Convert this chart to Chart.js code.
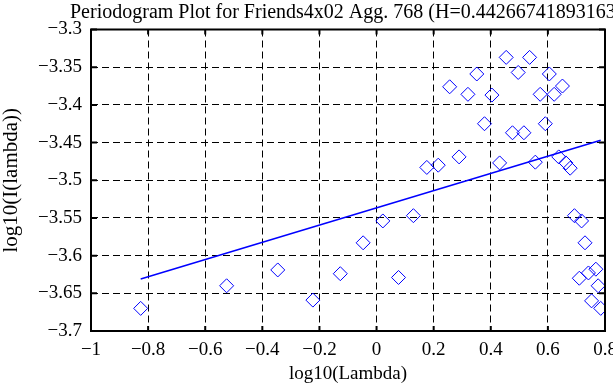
<!DOCTYPE html>
<html lang="en">
<head>
  <meta charset="UTF-8" />
  <title>Periodogram Plot</title>
  <script src="https://cdn.jsdelivr.net/npm/chart.js"></script>
  <style>
    html, body { margin: 0; padding: 0; background: #fff; }
    #chart { display: block; }
  </style>
</head>
<body>
  <canvas id="chart" width="613" height="385"></canvas>

  <script>
    // periodogram points, log10(Lambda) vs log10(I(lambda))
    const logLambda = [
      -0.826, -0.525, -0.346, -0.223, -0.127, -0.047, 0.077, 0.022, 0.129,
      0.176, 0.216, 0.289, 0.431, 0.556, 0.638, 0.663, 0.678,
      0.256, 0.351, 0.320, 0.454, 0.496, 0.404, 0.378, 0.476, 0.516,
      0.536, 0.605, 0.651, 0.573, 0.622, 0.591,
      0.693, 0.718, 0.730, 0.710, 0.742, 0.768, 0.776, 0.753, 0.785
    ];
    const logPower = [
      -3.670, -3.640, -3.619, -3.659, -3.624, -3.583, -3.629, -3.554, -3.547,
      -3.483, -3.480, -3.469, -3.477, -3.476, -3.469, -3.477, -3.484,
      -3.376, -3.359, -3.386, -3.337, -3.357, -3.387, -3.425, -3.437, -3.437,
      -3.337, -3.359, -3.375, -3.386, -3.386, -3.425,
      -3.547, -3.554, -3.583, -3.630, -3.623, -3.618, -3.640, -3.660, -3.670
    ];

    // least squares fit line ends
    const fitX = [-0.826, 0.785];
    const fitY = [-3.631, -3.447];

    const xTicks = [-1, -0.8, -0.6, -0.4, -0.2, 0, 0.2, 0.4, 0.6, 0.8];
    const xTickLabels = ['\u22121', '\u22120.8', '\u22120.6', '\u22120.4', '\u22120.2', '0', '0.2', '0.4', '0.6', '0.8'];
    const yTicks = [-3.7, -3.65, -3.6, -3.55, -3.5, -3.45, -3.4, -3.35, -3.3];
    const yTickLabels = ['\u22123.7', '\u22123.65', '\u22123.6', '\u22123.55', '\u22123.5', '\u22123.45', '\u22123.4', '\u22123.35', '\u22123.3'];

    const titleText = 'Periodogram Plot for Friends4x02 Agg. 768 (H=0.442667418931635)';

    const serif = "'Liberation Serif', 'DejaVu Serif', serif";
    const blue = '#0000ff';

    // box round the plot, inward tick marks, and the title
    const framePlugin = {
      id: 'frame',
      afterDraw(chart) {
        const ctx = chart.ctx;
        const a = chart.chartArea;
        const xs = chart.scales.x, ys = chart.scales.y;
        ctx.save();
        ctx.strokeStyle = '#000';
        ctx.lineWidth = 2;
        ctx.strokeRect(a.left, a.top, a.right - a.left, a.bottom - a.top);
        ctx.beginPath();
        xTicks.forEach(v => {
          const px = xs.getPixelForValue(v);
          ctx.moveTo(px, a.bottom); ctx.lineTo(px, a.bottom - 5);
          ctx.moveTo(px, a.top); ctx.lineTo(px, a.top + 5);
        });
        yTicks.forEach(v => {
          const py = ys.getPixelForValue(v);
          ctx.moveTo(a.left, py); ctx.lineTo(a.left + 6, py);
          ctx.moveTo(a.right, py); ctx.lineTo(a.right - 6, py);
        });
        ctx.stroke();

        ctx.fillStyle = '#000';
        ctx.font = '20px ' + serif;
        ctx.textAlign = 'left';
        ctx.textBaseline = 'alphabetic';
        ctx.fillText(titleText, 70, 18);
        ctx.restore();
      }
    };

    new Chart(document.getElementById('chart'), {
      type: 'scatter',
      data: {
        datasets: [
          {
            label: 'fit',
            data: fitX.map((x, i) => ({ x: x, y: fitY[i] })),
            showLine: true,
            borderColor: blue,
            borderWidth: 1.5,
            pointRadius: 0,
            fill: false
          },
          {
            label: 'periodogram',
            data: logLambda.map((x, i) => ({ x: x, y: logPower[i] })),
            pointStyle: 'rectRot',
            pointRadius: 7,
            pointBorderWidth: 1,
            pointBorderColor: blue,
            pointBackgroundColor: 'rgba(0,0,0,0)'
          }
        ]
      },
      options: {
        responsive: false,
        animation: false,
        devicePixelRatio: 1,
        layout: { padding: { left: 0, top: 29.5, right: 4.5, bottom: 0 } },
        plugins: {
          legend: { display: false },
          tooltip: { enabled: false },
          title: { display: false }
        },
        scales: {
          x: {
            type: 'linear',
            min: -1,
            max: 0.8,
            afterBuildTicks: s => { s.ticks = xTicks.map(v => ({ value: v })); },
            afterFit: s => { s.height = 54; s.paddingLeft = 0; s.paddingRight = 0; },
            ticks: {
              color: '#000',
              font: { family: serif, size: 19 },
              padding: 8,
              maxRotation: 0,
              callback: (v, i) => xTickLabels[i]
            },
            grid: { color: '#000', lineWidth: 1, drawTicks: false },
            border: { display: false, dash: [7, 4] },
            title: {
              display: true,
              text: 'log10(Lambda)',
              color: '#000',
              font: { family: serif, size: 19 },
              padding: { top: 0, bottom: 0 }
            }
          },
          y: {
            type: 'linear',
            min: -3.7,
            max: -3.3,
            afterBuildTicks: s => { s.ticks = yTicks.map(v => ({ value: v })); },
            afterFit: s => { s.width = 91; s.paddingTop = 0; s.paddingBottom = 0; },
            ticks: {
              color: '#000',
              font: { family: serif, size: 19 },
              padding: 9,
              callback: (v, i) => yTickLabels[i]
            },
            grid: { color: '#000', lineWidth: 1, drawTicks: false },
            border: { display: false, dash: [7, 4] },
            title: {
              display: true,
              text: 'log10(I(lambda))',
              color: '#000',
              font: { family: serif, size: 21 },
              padding: { top: -1, bottom: 0 }
            }
          }
        }
      },
      plugins: [framePlugin]
    });
  </script>
</body>
</html>
